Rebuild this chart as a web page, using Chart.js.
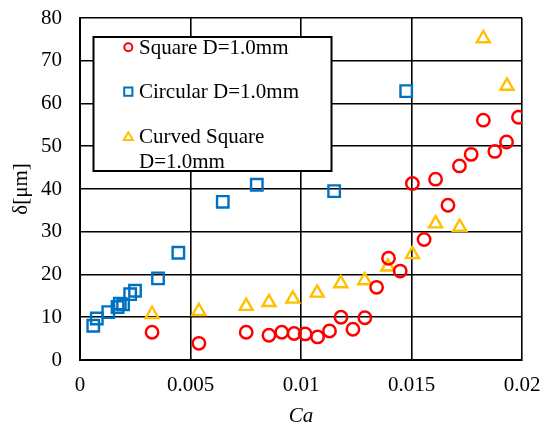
<!DOCTYPE html>
<html>
<head>
<meta charset="utf-8">
<script src="https://cdn.jsdelivr.net/npm/chart.js@4/dist/chart.umd.min.js"></script>
<style>
  html, body { margin: 0; padding: 0; background: #fff; }
  #wrap { width: 547px; height: 427px; position: relative; }
</style>
</head>
<body>
<div id="wrap"><canvas id="c" width="547" height="427"></canvas></div>
<script>
// ---- data ----
const seriesNames = ['Square D=1.0mm', 'Circular D=1.0mm', 'Curved Square D=1.0mm'];
const legendLines = [['Square D=1.0mm'], ['Circular D=1.0mm'], ['Curved Square', 'D=1.0mm']];

const squareCa    = [0.00326, 0.00538, 0.00752, 0.00855, 0.00913, 0.00969, 0.01019, 0.01075, 0.01129, 0.01181, 0.01235, 0.01289, 0.01342, 0.01396, 0.01449, 0.01504, 0.01557, 0.01609, 0.01665, 0.01717, 0.0177, 0.01825, 0.01877, 0.0193, 0.01984];
const squareDelta = [6.5, 3.9, 6.5, 5.8, 6.5, 6.2, 6.1, 5.4, 6.8, 10.0, 7.2, 9.9, 17.0, 23.8, 20.8, 41.3, 28.2, 42.3, 36.2, 45.4, 48.1, 56.1, 48.8, 51.0, 56.8];

const circularCa    = [0.0006, 0.00076, 0.00128, 0.0017, 0.0018, 0.00195, 0.00227, 0.00249, 0.00353, 0.00445, 0.00646, 0.008, 0.0115, 0.01476];
const circularDelta = [8.0, 9.7, 11.2, 12.4, 13.2, 13.0, 15.4, 16.2, 19.1, 25.1, 37.0, 41.0, 39.5, 62.9];

const curvedCa    = [0.00326, 0.00538, 0.00752, 0.00855, 0.00963, 0.01073, 0.0118, 0.01288, 0.01393, 0.01504, 0.01609, 0.01718, 0.01825, 0.01932];
const curvedDelta = [10.7, 11.4, 12.6, 13.5, 14.3, 15.7, 17.9, 18.6, 21.8, 24.7, 31.9, 31.1, 75.2, 64.1];

const xTickLabels = ['0', '0.005', '0.01', '0.015', '0.02'];
const yTickLabels = ['0', '10', '20', '30', '40', '50', '60', '70', '80'];
const xTitle = 'Ca';
const yTitle = 'δ[μm]';

// ---- styles ----
const colors = ['#FF0000', '#0070C0', '#FFC000'];
const styles = ['circle', 'rect', 'triangle'];
const radii = [6.2, 8.1, 7.5];
const bws = [2.5, 2.4, 2.4];
const FONT = "'Liberation Serif', 'Times New Roman', serif";

const toPts = (xs, ys) => xs.map((x, i) => ({ x: x, y: ys[i] }));
const allData = [toPts(squareCa, squareDelta), toPts(circularCa, circularDelta), toPts(curvedCa, curvedDelta)];

const datasets = allData.map((d, i) => ({
  label: seriesNames[i],
  data: d,
  pointStyle: styles[i],
  pointRadius: radii[i],
  pointHoverRadius: radii[i],
  pointBorderWidth: bws[i],
  pointBorderColor: colors[i],
  pointBackgroundColor: 'rgba(0,0,0,0)',
  showLine: false
}));

const legendPlugin = {
  id: 'boxLegend',
  afterDraw(chart) {
    const ctx = chart.ctx;
    ctx.save();
    const bx = 93.5, by = 37, bw = 238, bh = 134;
    ctx.fillStyle = '#fff';
    ctx.fillRect(bx, by, bw, bh);
    ctx.lineWidth = 2;
    ctx.strokeStyle = '#000';
    ctx.strokeRect(bx, by, bw, bh);
    const markerY = [47.3, 91.7, 137.5];
    const baselines = [[53.5], [98.3], [143.3, 168]];
    const mr = [4, 5.8, 5.2];
    ctx.font = '21px ' + FONT;
    ctx.textAlign = 'left';
    ctx.textBaseline = 'alphabetic';
    for (let i = 0; i < 3; i++) {
      ctx.strokeStyle = colors[i];
      ctx.fillStyle = 'rgba(0,0,0,0)';
      ctx.lineWidth = 2;
      Chart.helpers.drawPoint(ctx, { pointStyle: styles[i], radius: mr[i], borderWidth: 2, rotation: 0 }, 128.3, markerY[i]);
      ctx.fillStyle = '#000';
      legendLines[i].forEach((t, j) => ctx.fillText(t, 139, baselines[i][j]));
    }
    ctx.restore();
  }
};

function zeroPad(s) { s.paddingTop = 0; s.paddingBottom = 0; s.paddingLeft = 0; s.paddingRight = 0; }

new Chart(document.getElementById('c'), {
  type: 'scatter',
  data: { datasets: datasets },
  options: {
    responsive: false,
    animation: false,
    devicePixelRatio: 1,
    layout: { padding: { left: 0, right: 25, top: 18, bottom: 0 } },
    plugins: { legend: { display: false }, tooltip: { enabled: false } },
    scales: {
      x: {
        type: 'linear', min: 0, max: 0.02,
        afterFit(s) { s.height = 67; zeroPad(s); },
        afterBuildTicks(s) { s.ticks = xTickLabels.map(v => ({ value: parseFloat(v) })); },
        ticks: {
          color: '#000', padding: 13,
          font: { family: FONT, size: 21 },
          callback: (v, i) => xTickLabels[i]
        },
        grid: { color: '#000', lineWidth: 1.6, drawTicks: false },
        border: { color: '#000', width: 2 },
        title: {
          display: true, text: xTitle, color: '#000',
          font: { family: FONT, size: 21, style: 'italic', lineHeight: 1 },
          padding: { top: 0, bottom: 0 }
        }
      },
      y: {
        type: 'linear', min: 0, max: 80,
        afterFit(s) { s.width = 80; zeroPad(s); },
        afterBuildTicks(s) { s.ticks = yTickLabels.map(v => ({ value: parseFloat(v) })); },
        ticks: {
          color: '#000', padding: 18,
          font: { family: FONT, size: 21 },
          callback: (v, i) => yTickLabels[i]
        },
        grid: { color: '#000', lineWidth: 1.6, drawTicks: false },
        border: { color: '#000', width: 2 },
        title: {
          display: true, text: yTitle, color: '#000',
          font: { family: FONT, size: 21 },
          padding: { top: 9, bottom: 0 }
        }
      }
    }
  },
  plugins: [legendPlugin]
});
</script>
</body>
</html>
